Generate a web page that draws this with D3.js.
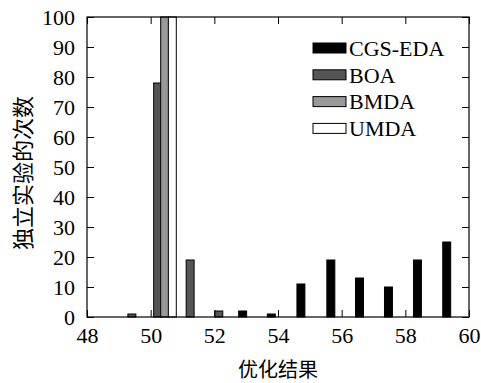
<!DOCTYPE html>
<html lang="zh">
    <head>
        <meta charset="UTF-8">
        <style>
            html, body{
                margin: 0;
                padding: 0;
                background: #fff;
            }
            #chart text{
                font-family: 'Liberation Serif', 'Times New Roman', serif;
                fill: #000;
            }
            #chart text.cjk{
                font-family: 'Noto Sans CJK SC', sans-serif;
            }
        </style>
    </head>
    <body>
        <svg id="chart" width="481" height="383"></svg>

        <script src="https://d3js.org/d3.v7.min.js"></script>
        <script>
            // ---- data ----
            const seriesNames = ['CGS-EDA', 'BOA', 'BMDA', 'UMDA']
            const seriesFill  = ['#000000', '#555555', '#999999', '#ffffff']
            // bar centre on the x axis (优化结果) and count (独立实验的次数)
            const cgsX  = [52.89, 53.79, 54.72, 55.66, 56.56, 57.47, 58.38, 59.30]
            const cgsY  = [2, 1, 11, 19, 13, 10, 19, 25]
            const boaX  = [49.41, 50.22, 51.24, 52.14]
            const boaY  = [1, 78, 19, 2]
            const bmdaX = [50.44]
            const bmdaY = [100]
            const umdaX = [50.68]
            const umdaY = [100]
            const xTicks = [48, 50, 52, 54, 56, 58, 60]
            const yTicks = [0, 10, 20, 30, 40, 50, 60, 70, 80, 90, 100]

            const seriesX = [cgsX, boaX, bmdaX, umdaX]
            const seriesY = [cgsY, boaY, bmdaY, umdaY]

            // ---- layout ----
            const m = {left: 87, right: 12, top: 17, bottom: 66}
            const W = 481, H = 383
            const barW = 0.25   // in x units
            const tickLen = 7
            const fontSize = 22

            const svg = d3.select('#chart')
            const x = d3.scaleLinear().domain([48, 60]).range([m.left, W - m.right])
            const y = d3.scaleLinear().domain([0, 100]).range([H - m.bottom, m.top])

            // bars
            const bars = svg.append('g')
            seriesX.forEach((xs, s) => {
                bars.selectAll(null)
                    .data(xs.map((v, i) => ({x: v, y: seriesY[s][i]})))
                    .enter().append('rect')
                    .attr('x', d => x(d.x - barW / 2))
                    .attr('width', d => x(d.x + barW / 2) - x(d.x - barW / 2))
                    .attr('y', d => y(d.y))
                    .attr('height', d => y(0) - y(d.y))
                    .attr('fill', seriesFill[s])
                    .attr('stroke', '#000')
                    .attr('stroke-width', 1)
            })

            // axes: inward ticks on all four sides
            const gx = svg.append('g').attr('transform', `translate(0,${y(0)})`)
                .call(d3.axisBottom(x).tickValues(xTicks).tickSizeInner(-tickLen).tickSizeOuter(0).tickPadding(10))
            const gxTop = svg.append('g').attr('transform', `translate(0,${y(100)})`)
                .call(d3.axisTop(x).tickValues(xTicks).tickSizeInner(-tickLen).tickSizeOuter(0).tickFormat(''))
            const gy = svg.append('g').attr('transform', `translate(${x(48)},0)`)
                .call(d3.axisLeft(y).tickValues(yTicks).tickSizeInner(-tickLen).tickSizeOuter(0).tickPadding(12))
            const gyRight = svg.append('g').attr('transform', `translate(${x(60)},0)`)
                .call(d3.axisRight(y).tickValues(yTicks).tickSizeInner(-tickLen).tickSizeOuter(0).tickFormat(''))

            ;[gx, gxTop, gy, gyRight].forEach(g => {
                g.attr('font-family', null).attr('font-size', null)
                g.select('.domain').remove()
                g.selectAll('line').attr('stroke', '#000').attr('stroke-width', 1)
                g.selectAll('text')
                    .style('font-family', "'Liberation Serif', 'Times New Roman', serif")
                    .style('font-size', fontSize + 'px')
                    .attr('fill', '#000')
            })

            // frame
            svg.append('rect')
                .attr('x', x(48)).attr('y', y(100))
                .attr('width', x(60) - x(48)).attr('height', y(0) - y(100))
                .attr('fill', 'none').attr('stroke', '#000').attr('stroke-width', 1.2)

            // axis titles
            svg.append('text').attr('class', 'cjk')
                .attr('x', 278).attr('y', 377)
                .attr('text-anchor', 'middle').style('font-size', '20px')
                .text('优化结果')
            svg.append('text').attr('class', 'cjk')
                .attr('transform', 'translate(31,173) rotate(-90)')
                .attr('text-anchor', 'middle').style('font-size', '22px')
                .text('独立实验的次数')

            // legend
            const legend = svg.append('g').attr('transform', 'translate(313,48)')
            const rows = legend.selectAll('g').data(seriesNames).enter().append('g')
                .attr('transform', (d, i) => `translate(0,${i * 26.8})`)
            rows.append('rect')
                .attr('x', 0).attr('y', -5).attr('width', 33).attr('height', 10)
                .attr('fill', (d, i) => seriesFill[i])
                .attr('stroke', '#000').attr('stroke-width', 1)
            rows.append('text')
                .attr('x', 36).attr('y', 0).attr('dy', '0.35em')
                .style('font-size', fontSize + 'px')
                .text(d => d)
        </script>
    </body>
</html>
